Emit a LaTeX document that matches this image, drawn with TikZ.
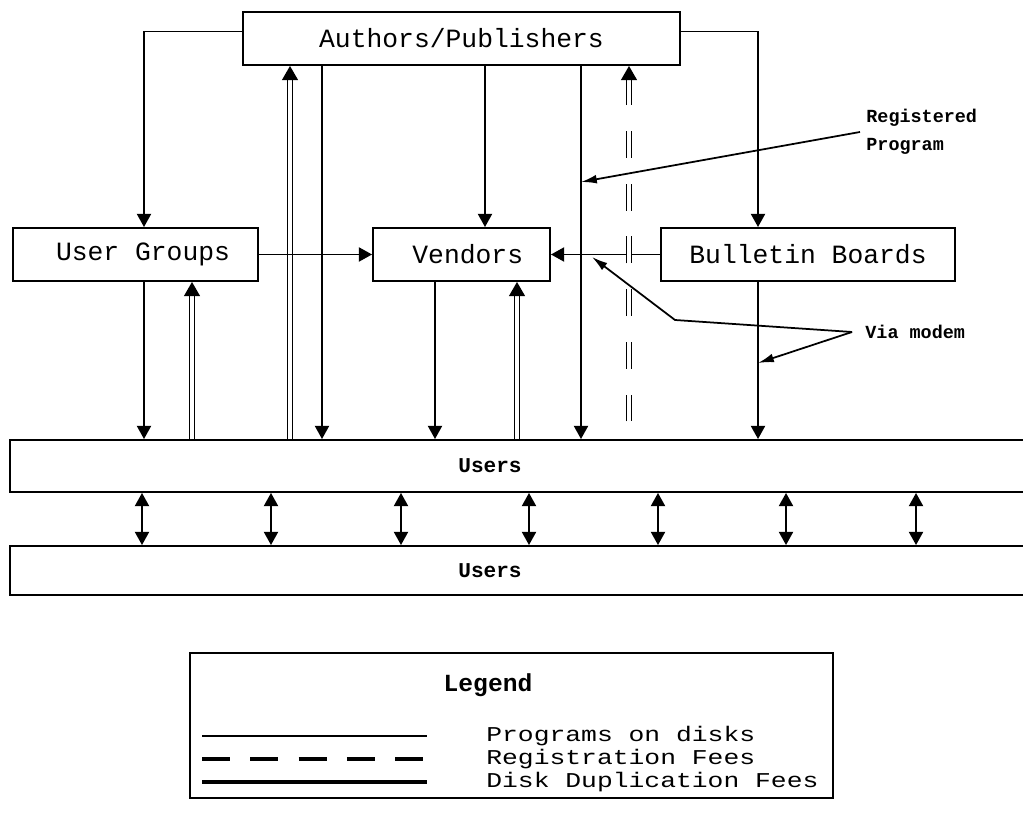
\documentclass[tikz,border=0pt]{standalone}
\usepackage{fontspec}
\setmonofont{Liberation Mono}
\newfontfamily\legfont[FakeStretch=1.25]{Liberation Mono}
\usetikzlibrary{arrows.meta,positioning}
\tikzset{
  box/.style={draw, line width=1.1pt, minimum height=1.06cm, inner sep=0pt,
    font=\ttfamily\fontsize{15}{18}\selectfont},
  bar/.style={draw, line width=1.1pt, minimum width=20.6cm, inner sep=0pt},
  prog/.style={line width=1.1pt, -{Triangle[length=7.5pt,width=8pt]}},
  dupfee/.style={line width=0.8pt, double, double distance=2pt,
    -{Triangle[length=8pt,width=9pt]}},
  regfee/.style={dupfee, dash pattern=on 15.3pt off 14.7pt, dash phase=20pt},
  exchange/.style={line width=1.1pt,
    {Triangle[length=7.5pt,width=8pt]}-{Triangle[length=7.5pt,width=8pt]}},
  note/.style={line width=1pt, -{Latex[length=9pt,width=5pt]}},
  notelbl/.style={font=\ttfamily\bfseries\fontsize{10.5}{16}\selectfont, align=left, inner sep=0pt},
  legtxt/.style={font=\legfont\fontsize{12}{14}\selectfont, inner sep=0pt},
}
\begin{document}
\begin{tikzpicture}[x=0.02cm, y=-0.02cm]
\useasboundingbox (0,0) rectangle (1023,813);

% boxes
\node[box, minimum width=8.74cm] (ap) at (461.5,38.5) {Authors/Publishers};
\node[box, minimum width=4.9cm] (ug) at (135.5,254.5) {\hspace*{0.3cm}User Groups};
\node[box, minimum width=3.54cm] (ven) at (461.5,254.5) {\hspace*{0.25cm}Vendors};
\node[box, minimum width=5.88cm] (bb) at (808,254.5) {Bulletin Boards};
\node[bar, minimum height=1.04cm] (users) at (525,466) {};
\node[bar, minimum height=0.98cm] (users2) at (525,570.5) {};
\node[font=\ttfamily\bfseries\fontsize{12}{14}\selectfont] (userstxt) at ([xshift=-0.7cm]users.center) {Users};
\node[font=\ttfamily\bfseries\fontsize{12}{14}\selectfont] (users2txt) at ([xshift=-0.7cm]users2.center) {Users};

% columns of the vertical lines
\coordinate (cA) at (144,0);
\coordinate (cB) at (192,0);
\coordinate (cC) at (290,0);
\coordinate (cD) at (322,0);
\coordinate (cE) at (435,0);
\coordinate (cF) at (485,0);
\coordinate (cG) at (517,0);
\coordinate (cH) at (581,0);
\coordinate (cI) at (629,0);
\coordinate (cJ) at (758,0);

\draw[prog] ([yshift=0.14cm]ap.west) -| (ug.north -| cA);
\draw[prog] ([yshift=0.14cm]ap.east) -| (bb.north -| cJ);
\draw[prog] (ug.south -| cA) -- (users.north -| cA);
\draw[dupfee] (users.north -| cB) -- (ug.south -| cB);
\draw[dupfee] (users.north -| cC) -- (ap.south -| cC);
\draw[prog] (ap.south -| cD) -- (users.north -| cD);
\draw[prog] (ap.south -| cF) -- (ven.north -| cF);
\draw[prog] (ven.south -| cE) -- (users.north -| cE);
\draw[dupfee] (users.north -| cG) -- (ven.south -| cG);
\draw[prog] (ap.south -| cH) -- (users.north -| cH);
\draw[prog] (bb.south -| cJ) -- (users.north -| cJ);
\draw[prog] (bb.west) -- (ven.east);
\draw[regfee] (users.north -| cI) -- (ap.south -| cI);
\draw[prog] (ug.east) -- (ven.west);

\foreach \x in {142,271,401,529,658,786,916}
  \draw[exchange] (users.south -| \x,0) -- (users2.north -| \x,0);

% notes
\node[notelbl, anchor=west] (reglbl) at (866,132) {Registered\\Program};
\coordinate (regtip) at (cH |- 0,182);
\draw[note] ([xshift=-0.12cm]reglbl.west) -- (regtip);
\node[notelbl, anchor=west] (modemlbl) at (865,332) {Via modem};
\coordinate (knee) at (675,320);
\coordinate (modemtipA) at (592,257);
\coordinate (modemtipB) at (cJ |- 0,363);
\draw[note] ([xshift=-0.26cm]modemlbl.west) -- (knee) -- (modemtipA);
\draw[note] ([xshift=-0.26cm]modemlbl.west) -- (modemtipB);

% legend
\node[draw, line width=1.1pt, minimum width=12.86cm, minimum height=2.9cm] (legend) at (511.5,725.5) {};
\node[font=\ttfamily\bfseries\fontsize{14}{16}\selectfont] (legendttl) at (488,685) {Legend};
\node[legtxt, anchor=west] (progtxt) at (486,736) {Programs on disks};
\node[legtxt, anchor=west] (regtxt) at (486,759) {Registration Fees};
\node[legtxt, anchor=west] (duptxt) at (486,782) {Disk Duplication Fees};
\draw[line width=1.1pt] (202,736) -- (427,736);
\draw[line width=2.6pt, dash pattern=on 16pt off 11.5pt] (202,759) -- (427,759);
\draw[line width=2.6pt] (202,782) -- (427,782);
\end{tikzpicture}
\end{document}
